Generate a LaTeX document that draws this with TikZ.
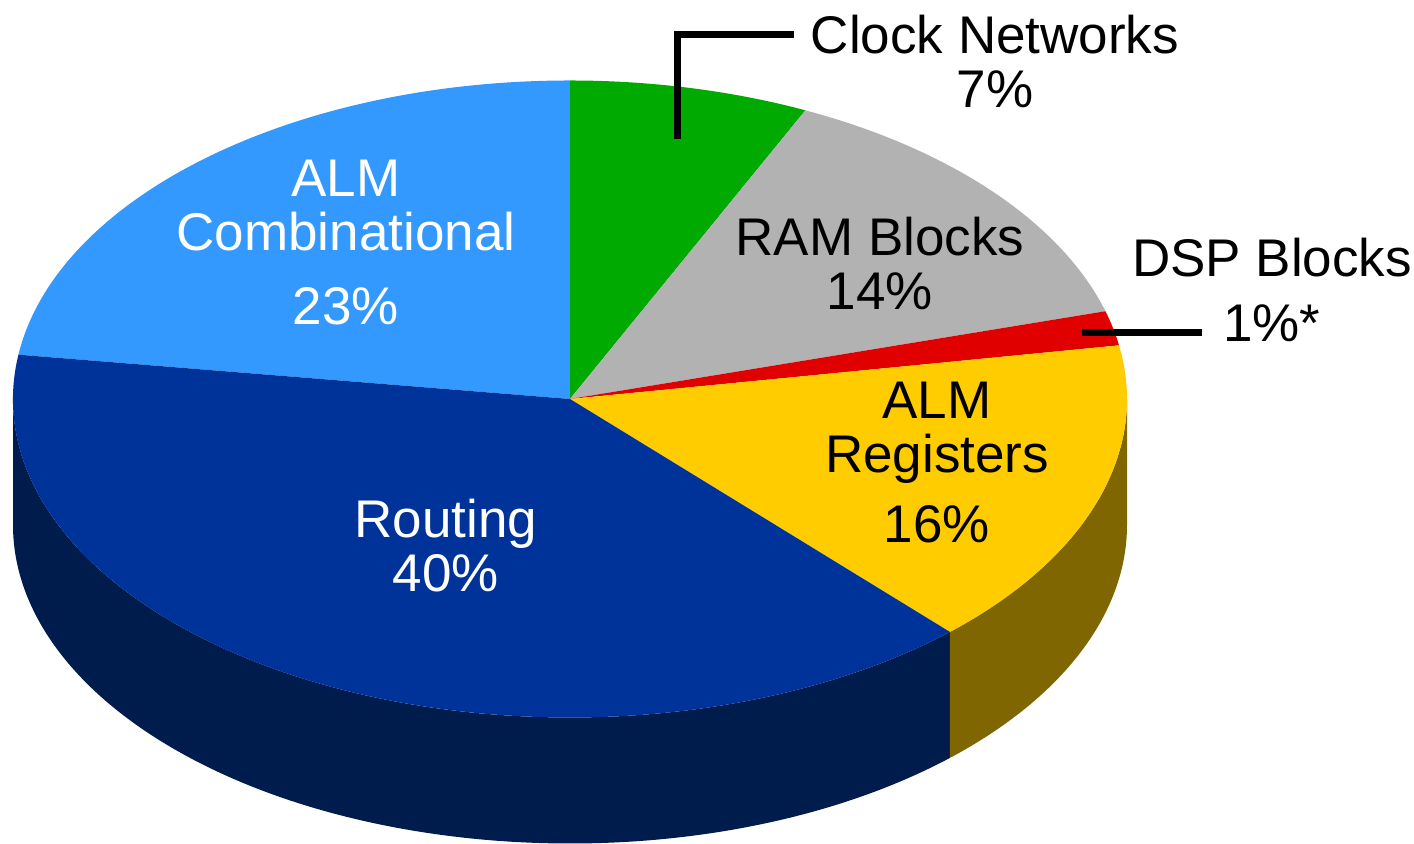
\documentclass[tikz,border=0pt]{standalone}
\usepackage{fontspec}
\setmainfont{Liberation Sans}
\definecolor{cLBlue}{HTML}{3399FF}
\definecolor{cGreen}{HTML}{00AA00}
\definecolor{cGray}{HTML}{B2B2B2}
\definecolor{cRed}{HTML}{E00000}
\definecolor{cYellow}{HTML}{FFCC00}
\definecolor{cBlue}{HTML}{003399}
\definecolor{cBlueSide}{HTML}{001C4C}
\definecolor{cYellowSide}{HTML}{806600}
\begin{document}
\begin{tikzpicture}[x=0.5pt,y=0.5pt,
  lbl/.style={font=\fontsize{26.5}{27}\selectfont, align=center, anchor=base, inner sep=0pt},
  leader/.style={line width=3.5pt, black}]
\useasboundingbox (0,0) rectangle (1414,844);
\def\pieRx{278.5pt}
\def\pieRy{159.25pt}
\coordinate (c) at (570,445);
% visible sides
\fill[cBlueSide] ({570+557*cos(180)},{445+318.5*sin(180)}) arc[start angle=180,end angle=313,x radius=\pieRx,y radius=\pieRy] -- ++(0,-126) arc[start angle=313,end angle=180,x radius=\pieRx,y radius=\pieRy] -- cycle;
\fill[cYellowSide] ({570+557*cos(313)},{445+318.5*sin(313)}) arc[start angle=313,end angle=360,x radius=\pieRx,y radius=\pieRy] -- ++(0,-126) arc[start angle=360,end angle=313,x radius=\pieRx,y radius=\pieRy] -- cycle;
% top faces
\fill[cLBlue] (c) -- ({570+557*cos(90)},{445+318.5*sin(90)}) arc[start angle=90,end angle=172,x radius=\pieRx,y radius=\pieRy] -- cycle;
\fill[cGreen] (c) -- ({570+557*cos(65)},{445+318.5*sin(65)}) arc[start angle=65,end angle=90,x radius=\pieRx,y radius=\pieRy] -- cycle;
\fill[cGray] (c) -- ({570+557*cos(16)},{445+318.5*sin(16)}) arc[start angle=16,end angle=65,x radius=\pieRx,y radius=\pieRy] -- cycle;
\fill[cRed] (c) -- ({570+557*cos(9.7)},{445+318.5*sin(9.7)}) arc[start angle=9.7,end angle=16,x radius=\pieRx,y radius=\pieRy] -- cycle;
\fill[cYellow] (c) -- ({570+557*cos(-47)},{445+318.5*sin(-47)}) arc[start angle=-47,end angle=9.7,x radius=\pieRx,y radius=\pieRy] -- cycle;
\fill[cBlue] (c) -- ({570+557*cos(172)},{445+318.5*sin(172)}) arc[start angle=172,end angle=313,x radius=\pieRx,y radius=\pieRy] -- cycle;
% labels (anchor = baseline of last line)
\node[lbl, white] (comb) at (346,519) {ALM\\Combinational\\[10pt]23\%};
\node[lbl, white] (routing) at (446,252) {Routing\\40\%};
\node[lbl] (regs) at (937,301) {ALM\\Registers\\[8pt]16\%};
\node[lbl] (ram) at (880,534) {RAM Blocks\\14\%};
\node[lbl] (dsp) at (1272,502) {DSP Blocks\\[5.5pt]1\%*};
\node[lbl] (clock) at (995,736) {Clock Networks\\7\%};
% leader lines
\coordinate (clkA) at (677,705);
\coordinate (clkB) at (677,809);
\coordinate (clkC) at (794,809);
\draw[leader] (clkA) -- (clkB) -- (clkC);
\coordinate (dspA) at (1082,511);
\coordinate (dspB) at (1202,511);
\draw[leader] (dspA) -- (dspB);
\end{tikzpicture}
\end{document}
